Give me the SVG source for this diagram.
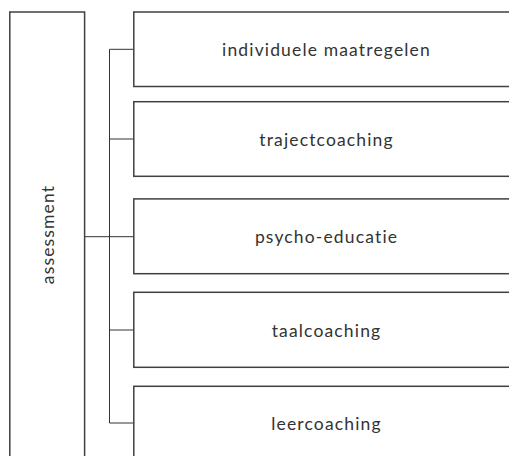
<svg xmlns="http://www.w3.org/2000/svg" width="509" height="456" viewBox="0 0 509 456">
  <style>
    .box { fill: #ffffff; stroke: #404040; stroke-width: 1.5; }
    .lbl { font-family: Lato, "Liberation Sans", sans-serif; font-size: 17.5px; letter-spacing: 1.15px; font-variant-ligatures: none; fill: #333333; text-anchor: middle; dominant-baseline: central; }
    .wire { fill: none; stroke: #333333; stroke-width: 1; }
  </style>
  <rect width="509" height="456" fill="#ffffff"/>

  <g id="connectors">
    <path class="wire" d="M85 236.7 H109.5"/>
    <path class="wire" d="M109.5 49.3 V423"/>
    <path class="wire" d="M109.5 49.3 H134"/>
    <path class="wire" d="M109.5 139 H134"/>
    <path class="wire" d="M109.5 236.7 H134"/>
    <path class="wire" d="M109.5 330 H134"/>
    <path class="wire" d="M109.5 423 H134"/>
  </g>

  <g id="assessment">
    <rect class="box" x="9.8" y="12" width="74.8" height="460"/>
    <text class="lbl" transform="translate(47 234.5) rotate(-90)">assessment</text>
  </g>

  <g id="individuele-maatregelen">
    <rect class="box" x="133.8" y="12" width="400" height="74.5"/>
    <text class="lbl" x="326.5" y="49.3">individuele maatregelen</text>
  </g>

  <g id="trajectcoaching">
    <rect class="box" x="133.8" y="101.7" width="400" height="74.6"/>
    <text class="lbl" x="326.5" y="139">trajectcoaching</text>
  </g>

  <g id="psycho-educatie">
    <rect class="box" x="133.8" y="198.9" width="400" height="74.8"/>
    <text class="lbl" x="326.5" y="236.7">psycho-educatie</text>
  </g>

  <g id="taalcoaching">
    <rect class="box" x="133.8" y="292.3" width="400" height="75"/>
    <text class="lbl" x="326.5" y="330">taalcoaching</text>
  </g>

  <g id="leercoaching">
    <rect class="box" x="133.8" y="386.3" width="400" height="100"/>
    <text class="lbl" x="326.5" y="423">leercoaching</text>
  </g>
</svg>
